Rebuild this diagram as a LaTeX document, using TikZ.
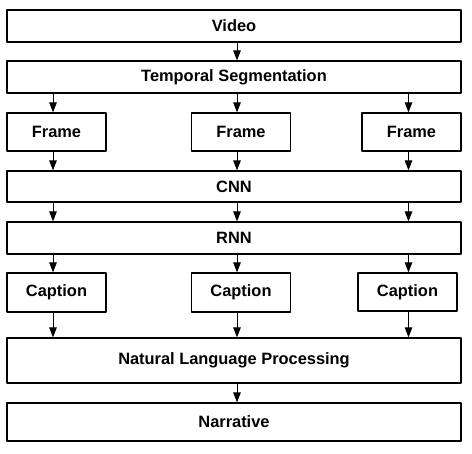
\documentclass[tikz,border=0pt]{standalone}
\usepackage{fontspec}
\setmainfont{Liberation Sans}
\usetikzlibrary{arrows.meta}
\begin{document}
\begin{tikzpicture}[x=1pt,y=-1pt,>={Triangle[length=10pt,width=7.5pt]}, line join=round,
  font=\fontsize{16.4}{19}\selectfont\bfseries,
  wide/.style={draw,line width=1.2pt,minimum width=454pt,minimum height=32pt,inner sep=0pt},
  small/.style={draw,line width=1.2pt,minimum width=99pt,minimum height=38pt,inner sep=0pt}]
\path[use as bounding box] (0,0) rectangle (472,454);
% columns of arrows
\coordinate (c1) at (53,0);
\coordinate (c2) at (237,0);
\coordinate (c3) at (408.5,0);
\node[wide] (vid) at (234,26) {Video};
\node[wide] (seg) at (234,77) {Temporal Segmentation};
\node[small] (fr1) at (56.5,132) {Frame};
\node[small] (fr2) at (241,132) {Frame};
\node[small] (fr3) at (411.5,132) {Frame};
\node[wide,minimum height=31pt] (cnn) at (234,186.5) {CNN};
\node[wide] (rnn) at (234,238) {RNN};
\node[small,minimum height=39pt] (cap1) at (56.5,292.5) {Caption};
\node[small,minimum height=39pt] (cap2) at (241,292.5) {Caption};
\node[small] (cap3) at (407.5,292) {Caption};
\node[wide,minimum height=45pt] (nlp) at (234,360.5) {Natural Language Processing};
\node[wide,minimum height=38pt] (nar) at (234,422) {Narrative};
\draw[->,line width=1pt] (vid.south -| c2) -- (seg.north -| c2);
\foreach \i in {1,2,3} {
\draw[->,line width=1pt] (seg.south -| c\i) -- (fr\i.north -| c\i);
\draw[->,line width=1pt] (fr\i.south -| c\i) -- (cnn.north -| c\i);
\draw[->,line width=1pt] (cnn.south -| c\i) -- (rnn.north -| c\i);
\draw[->,line width=1pt] (rnn.south -| c\i) -- (cap\i.north -| c\i);
\draw[->,line width=1pt] (cap\i.south -| c\i) -- (nlp.north -| c\i);
}
\draw[->,line width=1pt] (nlp.south -| c2) -- (nar.north -| c2);
\end{tikzpicture}
\end{document}
